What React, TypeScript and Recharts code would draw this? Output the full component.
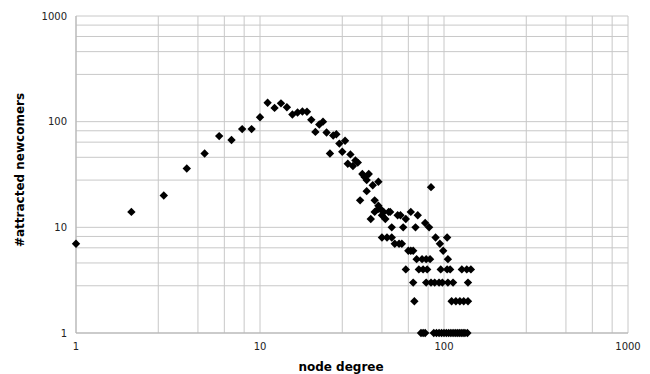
import React from 'react';
import { ScatterChart, Scatter, XAxis, YAxis, CartesianGrid, Label } from 'recharts';

// node degree (x) and number of attracted newcomers (y)
const degree = [
    1, 2, 3, 4, 5, 6, 7, 8, 9, 10,
    11, 12, 13, 14, 15, 16, 17, 18, 19, 20, 21, 22, 23, 24, 25, 26, 27, 28, 29, 30,
    31, 32, 33, 34, 35, 36, 37, 38, 38, 39, 40, 41, 42, 42, 44, 44, 44, 45, 46, 47, 48, 50, 51, 56, 58, 62, 66, 72,
    52, 60, 70, 79, 83, 85,
    46, 49, 52, 54, 57, 59, 90, 104,
    95, 64, 66, 68, 99,
    71, 76, 80, 84, 105,
    62, 73, 77, 81, 96, 104, 108, 125, 133, 140,
    68, 80, 85, 89, 94, 98, 105, 112, 135,
    69, 110, 116, 122, 128, 135,
    75, 77, 79, 88, 91, 94, 97, 100, 103, 106, 109, 112, 115, 118, 121, 124, 127, 130, 134,
];
const newcomers = [
    7, 14, 20, 36, 50, 73, 67, 85, 85, 110,
    151, 135, 149, 137, 117, 122, 125, 124, 104, 80, 94, 100, 79, 50, 74, 76, 62, 52, 66, 40,
    49, 38, 43, 41, 18, 32, 30, 28, 22, 32, 12, 25, 18, 14, 27, 16, 15, 15, 13, 14, 12, 14, 14, 13, 13, 12, 14, 13,
    10, 10, 10, 11, 10, 24,
    8, 8, 8, 7, 7, 7, 8, 8,
    7, 6, 6, 6, 6,
    5, 5, 5, 5, 5,
    4, 4, 4, 4, 4, 4, 4, 4, 4, 4,
    3, 3, 3, 3, 3, 3, 3, 3, 3,
    2, 2, 2, 2, 2, 2,
    1, 1, 1, 1, 1, 1, 1, 1, 1, 1, 1, 1, 1, 1, 1, 1, 1, 1, 1,
];

// log axes with linear minor steps inside each decade
const axisTicks = [1, 2.8, 4.6, 6.4, 8.2, 10, 28, 46, 64, 82, 100, 280, 460, 640, 820, 1000];
const decadeLabels = [1, 10, 100, 1000];

const data = degree.map((d, i) => ({ x: d, y: newcomers[i] }));

const FONT = 'DejaVu Sans, sans-serif';

const Diamond = (props: any) => {
    const { cx, cy } = props;
    if (cx == null || cy == null) return null;
    const r = 4.2;
    return <path d={`M${cx},${cy - r}L${cx + r},${cy}L${cx},${cy + r}L${cx - r},${cy}Z`} fill="#000" />;
};

const fmt = (v: number) => (decadeLabels.includes(v) ? String(v) : '');

export default function App() {
    return (
        <div style={{ position: 'absolute', left: 0, top: 0, width: 650, height: 374, background: '#fff' }}>
            <ScatterChart width={650} height={374} margin={{ top: 16, right: 22, bottom: 0, left: 0 }}>
                <CartesianGrid stroke="#c8c8c8" />
                <XAxis
                    dataKey="x"
                    type="number"
                    scale="log"
                    domain={[1, 1000]}
                    ticks={axisTicks}
                    interval={0}
                    tickFormatter={fmt}
                    tickLine={false}
                    tickMargin={4}
                    height={41}
                    stroke="#b3b3b3"
                    tick={{ fontSize: 10, fill: '#222', fontFamily: FONT }}
                >
                    <Label
                        content={() => (
                            <text x={341} y={371} textAnchor="middle" fontFamily={FONT} fontWeight="bold" fontSize={12} fill="#000">
                                node degree
                            </text>
                        )}
                    />
                </XAxis>
                <YAxis
                    dataKey="y"
                    type="number"
                    scale="log"
                    domain={[1, 1000]}
                    ticks={axisTicks}
                    interval={0}
                    tickFormatter={fmt}
                    tickLine={false}
                    tickMargin={3}
                    width={76}
                    stroke="#b3b3b3"
                    tick={{ fontSize: 10, fill: '#222', fontFamily: FONT }}
                >
                    <Label
                        content={() => (
                            <text
                                x={24}
                                y={170}
                                transform="rotate(-90 24 170)"
                                textAnchor="middle"
                                fontFamily={FONT}
                                fontWeight="bold"
                                fontSize={12}
                                fill="#000"
                            >
                                #attracted newcomers
                            </text>
                        )}
                    />
                </YAxis>
                <Scatter data={data} shape={<Diamond />} isAnimationActive={false} />
            </ScatterChart>
        </div>
    );
}
